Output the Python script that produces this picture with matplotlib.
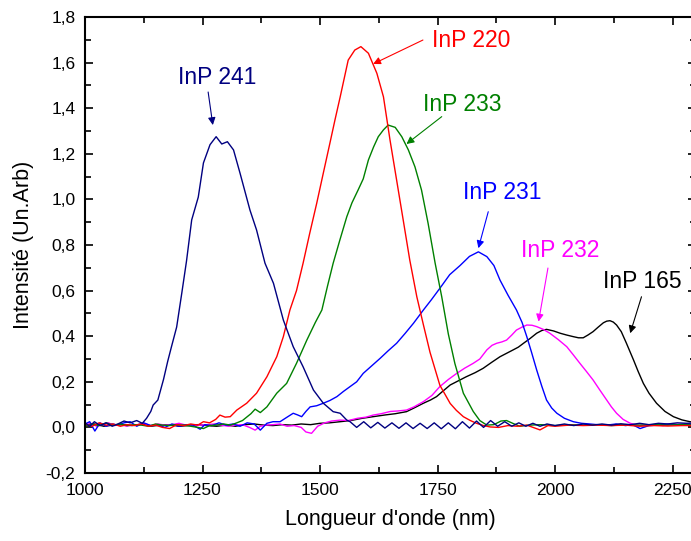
import numpy as np
import matplotlib
matplotlib.use('Agg')
import matplotlib.pyplot as plt
from matplotlib.ticker import MultipleLocator, FuncFormatter

plt.rcParams['font.family'] = ['Liberation Sans', 'DejaVu Sans']

# InP 241 (navy)
x241 = [1000, 1010, 1020, 1032, 1045, 1058, 1070, 1083, 1096, 1110, 1122, 1131, 1140, 1145,
        1155, 1167, 1176, 1184, 1195, 1206, 1216, 1227, 1241, 1252, 1266, 1279, 1291, 1303,
        1316, 1330, 1351, 1365, 1383, 1401, 1422, 1443, 1464, 1486, 1507, 1528, 1543, 1557,
        1564, 1578, 1593, 1608, 1623, 1638, 1653, 1668, 1683, 1698, 1713, 1728, 1743, 1758,
        1773, 1788, 1803, 1818, 1833, 1848, 1863, 1878, 1893, 1908, 1923, 1938, 1953, 1968,
        1983, 2000, 2020, 2040, 2060, 2080, 2100, 2120, 2140, 2160, 2180, 2200, 2220, 2240,
        2260, 2280, 2300]
y241 = [0.02, 0.005, 0.025, 0.008, 0.02, 0.005, 0.015, 0.028, 0.02, 0.03, 0.018, 0.04, 0.07, 0.098,
        0.12, 0.21, 0.29, 0.354, 0.44, 0.59, 0.73, 0.91, 1.01, 1.16, 1.24, 1.275, 1.243, 1.253,
        1.217, 1.114, 0.953, 0.866, 0.72, 0.632, 0.471, 0.354, 0.266, 0.164, 0.106, 0.069, 0.062, 0.032,
        0.025, 0.0, 0.025, -0.002, 0.022, -0.003, 0.02, -0.004, 0.02, -0.005, 0.018, -0.005, 0.02, -0.006,
        0.02, -0.006, 0.025, -0.003, 0.028, 0.0, 0.03, 0.005, 0.025, 0.005, 0.02, 0.005, 0.018, 0.005,
        0.015, 0.008, 0.015, 0.008, 0.015, 0.01, 0.015, 0.01, 0.016, 0.012, 0.018, 0.012, 0.018, 0.015,
        0.02, 0.018, 0.02]

# InP 220 (red)
x220 = [1000, 1015, 1030, 1045, 1060, 1075, 1090, 1105, 1120, 1135, 1150, 1165, 1180, 1195,
        1210, 1225, 1240, 1252, 1265, 1278, 1287, 1298, 1309, 1323, 1344, 1365, 1387, 1408,
        1422, 1436, 1450, 1464, 1478, 1493, 1507, 1521, 1532, 1543, 1560, 1574, 1587, 1603,
        1621, 1635, 1649, 1663, 1677, 1691, 1706, 1720, 1734, 1755, 1777, 1790, 1805, 1820,
        1833, 1848, 1862, 1880, 1900, 1920, 1940, 1968, 1985, 2000, 2030, 2060, 2090, 2120,
        2150, 2180, 2210, 2240, 2270, 2300]
y220 = [0.015, 0.005, 0.02, 0.01, 0.015, 0.005, 0.012, 0.008, 0.015, 0.005, 0.01, 0.0, -0.005, 0.012,
        0.008, 0.015, 0.01, 0.025, 0.02, 0.035, 0.054, 0.045, 0.047, 0.076, 0.106, 0.15, 0.222, 0.31,
        0.398, 0.515, 0.6, 0.72, 0.85, 0.983, 1.115, 1.246, 1.35, 1.45, 1.611, 1.655, 1.67, 1.641,
        1.553, 1.45, 1.26, 1.085, 0.91, 0.734, 0.573, 0.45, 0.33, 0.185, 0.105, 0.075, 0.047, 0.03,
        0.018, 0.008, 0.002, 0.0, 0.008, 0.005, 0.01, -0.011, 0.008, 0.005, 0.01, 0.008, 0.01, 0.008,
        0.01, 0.005, 0.008, 0.006, 0.008, 0.008]

# InP 233 (green)
x233 = [1000, 1015, 1030, 1045, 1060, 1075, 1090, 1105, 1120, 1135, 1150, 1165, 1180, 1195,
        1210, 1225, 1240, 1252, 1265, 1280, 1295, 1310, 1323, 1335, 1344, 1353, 1362, 1373,
        1387, 1408, 1429, 1450, 1472, 1490, 1504, 1516, 1528, 1542, 1557, 1568, 1581, 1592,
        1603, 1614, 1624, 1635, 1645, 1660, 1674, 1688, 1702, 1716, 1730, 1745, 1759, 1773,
        1787, 1805, 1826, 1840, 1855, 1870, 1885, 1897, 1910, 1925, 1945, 1970, 2000, 2030,
        2060, 2090, 2120, 2150, 2180, 2210, 2240, 2270, 2300]
y233 = [0.005, 0.015, 0.008, 0.02, 0.01, 0.015, 0.008, 0.012, 0.01, 0.005, 0.015, 0.01, 0.008, 0.012,
        0.01, 0.005, 0.0, -0.005, 0.008, 0.01, 0.015, 0.01, 0.02, 0.03, 0.045, 0.06, 0.08, 0.065,
        0.09, 0.15, 0.193, 0.281, 0.383, 0.46, 0.515, 0.62, 0.72, 0.82, 0.924, 0.985, 1.041, 1.09,
        1.173, 1.23, 1.275, 1.305, 1.326, 1.316, 1.275, 1.217, 1.143, 1.041, 0.895, 0.72, 0.573, 0.41,
        0.28, 0.15, 0.07, 0.03, 0.01, 0.012, 0.028, 0.03, 0.018, 0.005, 0.01, 0.012, 0.008, 0.012,
        0.01, 0.012, 0.008, 0.012, 0.01, 0.012, 0.01, 0.012, 0.01]

# InP 231 (blue)
x231 = [1000, 1010, 1021, 1032, 1045, 1058, 1070, 1083, 1096, 1110, 1125, 1140, 1155, 1170,
        1185, 1200, 1215, 1230, 1245, 1255, 1270, 1285, 1300, 1315, 1330, 1345, 1360, 1373,
        1387, 1400, 1415, 1430, 1443, 1452, 1461, 1470, 1479, 1493, 1507, 1521, 1536, 1550,
        1564, 1578, 1592, 1610, 1628, 1645, 1663, 1681, 1699, 1720, 1737, 1755, 1776, 1798,
        1818, 1837, 1855, 1870, 1883, 1900, 1918, 1930, 1940, 1950, 1961, 1972, 1982, 1993,
        2004, 2020, 2039, 2056, 2074, 2090, 2110, 2130, 2150, 2165, 2181, 2200, 2220, 2240,
        2260, 2280, 2300]
y231 = [0.015, 0.025, -0.016, 0.02, 0.005, 0.015, 0.01, 0.02, 0.025, 0.005, 0.02, 0.008, 0.01, 0.0,
        0.015, 0.005, 0.012, 0.01, -0.008, 0.012, 0.008, 0.02, 0.01, 0.015, 0.005, 0.02, 0.015, -0.012,
        0.018, 0.025, 0.025, 0.045, 0.062, 0.055, 0.047, 0.07, 0.09, 0.095, 0.106, 0.118, 0.135, 0.158,
        0.179, 0.2, 0.237, 0.27, 0.303, 0.336, 0.369, 0.412, 0.457, 0.515, 0.56, 0.61, 0.67, 0.71,
        0.75, 0.77, 0.749, 0.71, 0.646, 0.58, 0.515, 0.46, 0.398, 0.33, 0.252, 0.18, 0.12, 0.085,
        0.062, 0.04, 0.025, 0.018, 0.015, 0.012, 0.01, 0.015, 0.008, 0.012, -0.005, 0.008, 0.01, 0.015,
        0.012, 0.015, 0.012]

# InP 232 (magenta)
x232 = [1000, 1012, 1025, 1038, 1050, 1063, 1075, 1088, 1100, 1113, 1125, 1140, 1155, 1170,
        1185, 1200, 1215, 1230, 1245, 1260, 1275, 1290, 1305, 1320, 1335, 1350, 1362, 1373,
        1385, 1400, 1415, 1430, 1445, 1460, 1470, 1482, 1495, 1510, 1525, 1543, 1560, 1580,
        1598, 1613, 1630, 1650, 1665, 1684, 1700, 1720, 1738, 1755, 1773, 1791, 1808, 1826,
        1840, 1855, 1866, 1876, 1887, 1897, 1908, 1918, 1930, 1940, 1951, 1961, 1975, 1989,
        2007, 2025, 2039, 2053, 2067, 2081, 2095, 2110, 2120, 2131, 2145, 2160, 2175, 2190,
        2210, 2230, 2250, 2270, 2290, 2300]
y232 = [0.01, 0.018, 0.005, 0.015, 0.02, 0.008, 0.015, 0.005, 0.01, 0.012, 0.018, 0.008, 0.015, 0.01,
        0.012, 0.018, 0.01, 0.008, 0.01, 0.012, 0.015, 0.01, 0.005, 0.01, 0.012, 0.0, -0.012, 0.005,
        0.01, 0.012, 0.015, 0.005, 0.008, 0.0, -0.02, -0.026, 0.005, 0.02, 0.028, 0.032, 0.03, 0.04,
        0.045, 0.054, 0.06, 0.07, 0.072, 0.076, 0.09, 0.113, 0.14, 0.179, 0.21, 0.237, 0.26, 0.281,
        0.3, 0.34, 0.36, 0.369, 0.375, 0.383, 0.405, 0.427, 0.44, 0.449, 0.448, 0.442, 0.43, 0.413,
        0.385, 0.354, 0.318, 0.281, 0.245, 0.208, 0.165, 0.12, 0.09, 0.062, 0.035, 0.018, 0.01, 0.008,
        0.012, 0.008, 0.015, 0.012, 0.015, 0.012]

# InP 165 (black)
x165 = [1000, 1020, 1040, 1060, 1080, 1100, 1120, 1140, 1160, 1180, 1200, 1220, 1240, 1260,
        1280, 1300, 1320, 1340, 1360, 1380, 1400, 1420, 1440, 1460, 1480, 1500, 1520, 1543,
        1565, 1590, 1613, 1640, 1660, 1684, 1700, 1720, 1735, 1748, 1762, 1777, 1795, 1811,
        1830, 1847, 1865, 1883, 1897, 1911, 1922, 1933, 1947, 1961, 1972, 1982, 1997, 2011,
        2025, 2039, 2050, 2060, 2070, 2081, 2092, 2103, 2110, 2117, 2124, 2131, 2141, 2152,
        2160, 2167, 2177, 2188, 2200, 2216, 2234, 2252, 2270, 2287, 2300]
y165 = [0.01, 0.015, 0.005, 0.01, 0.012, 0.008, 0.015, 0.005, 0.01, 0.012, 0.005, 0.008, 0.012, 0.008,
        0.005, 0.01, 0.005, 0.012, 0.015, 0.01, 0.008, 0.012, 0.01, 0.015, 0.012, 0.018, 0.02, 0.025,
        0.03, 0.04, 0.047, 0.055, 0.06, 0.069, 0.085, 0.106, 0.12, 0.135, 0.16, 0.186, 0.205, 0.222,
        0.24, 0.259, 0.285, 0.31, 0.325, 0.34, 0.352, 0.369, 0.39, 0.413, 0.425, 0.43, 0.423, 0.413,
        0.405, 0.398, 0.393, 0.393, 0.405, 0.42, 0.44, 0.459, 0.466, 0.468, 0.462, 0.449, 0.42, 0.369,
        0.33, 0.296, 0.245, 0.193, 0.15, 0.106, 0.07, 0.047, 0.033, 0.025, 0.022]

# labels: (text, colour, text pos, arrow start, arrow tip)
labels = ['InP 241', 'InP 220', 'InP 233', 'InP 231', 'InP 232', 'InP 165']
colors = ['#000080', '#ff0000', '#008000', '#0000ff', '#ff00ff', '#000000']
text_xy = [(1282, 1.535), (1821, 1.695), (1802, 1.418), (1887, 1.032), (2011, 0.774), (2185, 0.638)]
arrow_from = [(1262, 1.471), (1719, 1.699), (1759, 1.363), (1858, 0.946), (1985, 0.699), (2184, 0.573)]
arrow_to = [(1272, 1.326), (1613, 1.594), (1684, 1.243), (1837, 0.786), (1965, 0.464), (2160, 0.413)]

series = [(x241, y241), (x220, y220), (x233, y233), (x231, y231), (x232, y232), (x165, y165)]

fig = plt.figure(figsize=(6.91, 5.41), dpi=100)
ax = fig.add_axes([85 / 691, 1 - 473 / 541, 611 / 691, 456 / 541])

# draw in same order as the original (black under, navy on top roughly)
for i in [5, 4, 3, 2, 1, 0]:
    x, y = series[i]
    ax.plot(x, y, color=colors[i], lw=1.0)

for i in range(len(labels)):
    ax.text(text_xy[i][0], text_xy[i][1], labels[i], color=colors[i], fontsize=16.5,
            ha='center', va='center')
    ax.annotate('', xy=arrow_to[i], xytext=arrow_from[i],
                arrowprops=dict(arrowstyle='-|>', color=colors[i], lw=0.8,
                                mutation_scale=11, shrinkA=0, shrinkB=0))

ax.set_xlim(1000, 2300)
ax.set_ylim(-0.2, 1.8)
ax.xaxis.set_major_locator(MultipleLocator(250))
ax.xaxis.set_minor_locator(MultipleLocator(125))
ax.yaxis.set_major_locator(MultipleLocator(0.2))
ax.yaxis.set_minor_locator(MultipleLocator(0.1))
ax.yaxis.set_major_formatter(FuncFormatter(lambda v, p: ('%.1f' % v).replace('.', ',')))
ax.xaxis.set_major_formatter(FuncFormatter(lambda v, p: '%d' % v))

ax.tick_params(which='both', direction='in', top=True, right=True, labelsize=12.5, pad=7)
ax.tick_params(which='major', length=5.5, width=1.2)
ax.tick_params(which='minor', length=4, width=1.2)
for s in ax.spines.values():
    s.set_linewidth(1.5)

ax.set_xlabel("Longueur d'onde (nm)", fontsize=15.5, labelpad=8)
ax.set_ylabel('Intensité (Un.Arb)', fontsize=15.5, labelpad=8)

fig.savefig('out.png', dpi=100)
